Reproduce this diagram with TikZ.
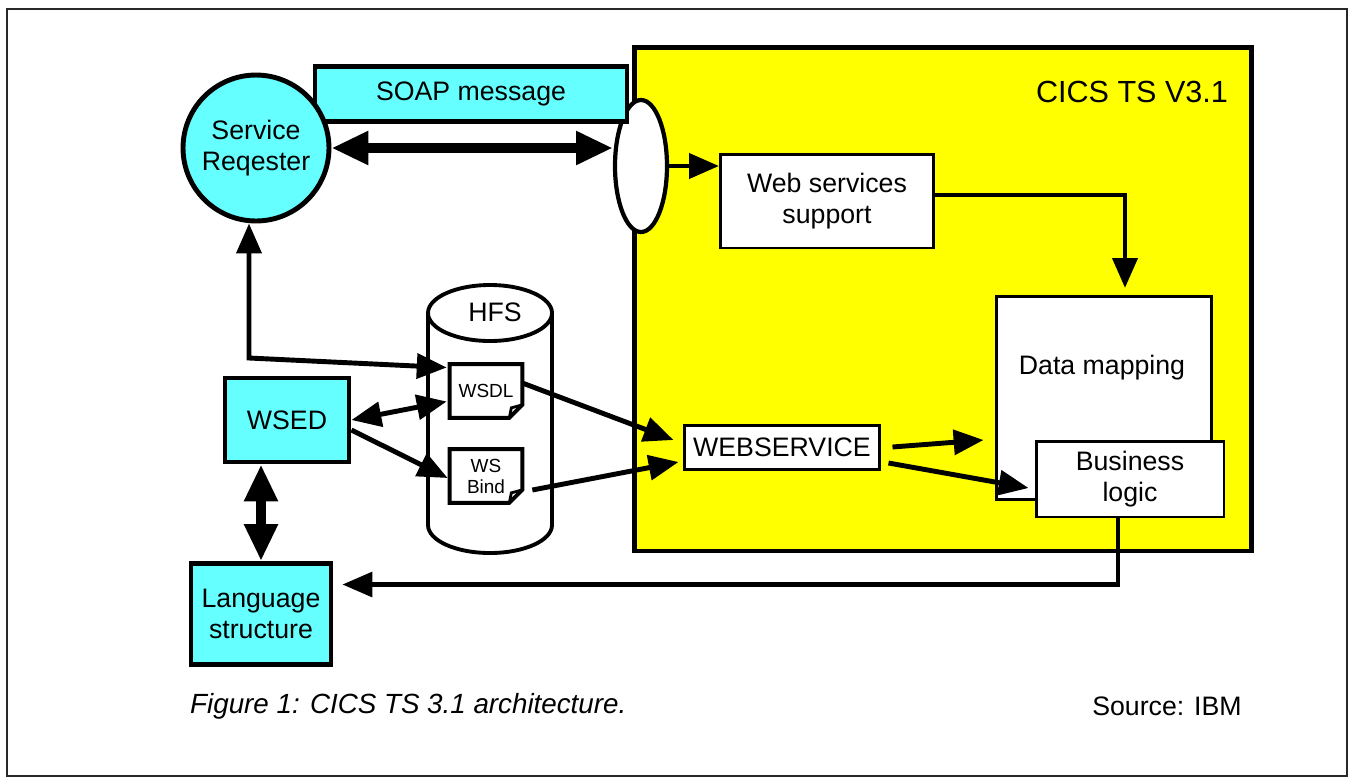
\documentclass[tikz,border=0pt]{standalone}
\usepackage{fontspec}
\setmainfont{Liberation Sans}
\usepackage{tikz}
\usetikzlibrary{shapes.geometric, arrows.meta, positioning, calc}
\definecolor{cicsyellow}{RGB}{255,255,0}
\definecolor{cicscyan}{RGB}{102,255,255}
\definecolor{framegray}{RGB}{40,40,40}
\newcommand{\cicsfont}{\fontsize{15.2}{17.5}\selectfont}
\newcommand{\docfont}{\fontsize{10.8}{12}\selectfont}
\tikzset{
  %% ---- boxes ----
  cyanbox/.style  = {rectangle, draw=black, line width=2.8pt,
                     fill=cicscyan, align=center, font=\cicsfont},
  whitebox/.style = {rectangle, draw=black, line width=1.7pt,
                     fill=white, align=center, font=\cicsfont},
  doc/.style      = {rectangle, fill=white, inner sep=0pt,
                     minimum width=1.44cm, minimum height=1.06cm,
                     align=center, font=\docfont},
  %% ---- arrows ----
  arrow/.style    = {-{Triangle[length=17pt,width=14pt]}, line width=2.8pt},
  dblarrow/.style = {{Triangle[length=17pt,width=14pt]}-{Triangle[length=17pt,width=14pt]},
                     line width=2.8pt},
  fatarrow/.style = {{Triangle[length=21pt,width=18pt]}-{Triangle[length=21pt,width=18pt]},
                     line width=5.5pt},
}
%% dog-ear outline round a doc node
\newcommand{\docoutline}[1]{%
  \draw[line width=2.2pt] (#1.north west) -- (#1.north east)
    -- ([yshift=0.26cm]#1.south east) -- ([xshift=-0.26cm]#1.south east)
    -- (#1.south west) -- cycle;
  \draw[line width=1.6pt] ([yshift=0.26cm]#1.south east)
    -- ([shift={(-0.22cm,0.2cm)}]#1.south east) -- ([xshift=-0.26cm]#1.south east);}

\begin{document}
\begin{tikzpicture}[x=0.02cm, y=-0.02cm, font=\cicsfont]
  \useasboundingbox (0,0) rectangle (1349,782);
  \draw[framegray, line width=1.1pt] (7,9) rectangle (1347,776);

  %% ---- CICS region ----
  \node[rectangle, draw=black, line width=2.8pt, fill=cicsyellow,
        minimum width=12.36cm, minimum height=10.08cm] (cics) at (943,299) {};
  \node[font=\fontsize{17.4}{20}\selectfont] (cicslabel) at (1132,92) {CICS TS V3.1};

  \node[ellipse, draw=black, line width=2.4pt, fill=white,
        minimum width=1.04cm, minimum height=2.64cm, inner sep=0pt] (gate) at (641,166) {};
  \node[whitebox, minimum width=4.26cm, minimum height=1.88cm] (wss) at (827,201)
    {Web services\\support};
  \node[whitebox, minimum width=4.32cm, minimum height=4.06cm] (dmap) at (1104,398) {};
  \node (dmaptext) at (1102,368) {Data mapping};
  \node[whitebox, minimum width=3.76cm, minimum height=1.52cm] (blogic) at (1130,479)
    {Business\\logic};
  \node[whitebox, minimum width=3.92cm, minimum height=0.88cm] (websvc) at (782,447)
    {WEBSERVICE};

  %% ---- requester side ----
  \node[cyanbox, minimum width=6.24cm, minimum height=1.1cm] (soap) at (471,94)
    {SOAP message};
  \node[circle, draw=black, line width=2.8pt, fill=cicscyan, align=center,
        minimum size=2.92cm, inner sep=0pt] (sr) at (256,148) {Service\\Reqester};
  \node[cyanbox, minimum width=2.48cm, minimum height=1.68cm] (wsed) at (287,420) {WSED};
  \node[cyanbox, minimum width=2.8cm, minimum height=2.02cm] (lang) at (261,614)
    {Language\\structure};

  %% ---- HFS ----
  \draw[line width=2.2pt, fill=white] (428,313) -- (428,525)
    arc[start angle=180, end angle=0, x radius=62, y radius=28] -- (552,313);
  \draw[line width=2.2pt, fill=white] (490,313) ellipse [x radius=62, y radius=28];
  \node (hfs) at (495,312) {HFS};
  \node[doc] (wsdl) at (486,391) {WSDL};
  \docoutline{wsdl}
  \node[doc] (wsbind) at (486,476) {WS\\Bind};
  \docoutline{wsbind}

  %% ---- connectors ----
  \draw[fatarrow] (sr.east) -- (sr.east -| gate.west);
  \draw[arrow] (gate.east) -- (gate.east -| wss.west);
  \draw[arrow, shorten >=4pt] ([yshift=0.12cm]wss.east) -| ([xshift=0.42cm]dmap.north);

  \coordinate (bend) at (249,358);
  \draw[dblarrow] (bend |- sr.south) -- (bend) -- ([shift={(-0.06cm,0.47cm)}]wsdl.west);
  \draw[dblarrow] (wsed.east) -- ([shift={(-0.06cm,-0.21cm)}]wsdl.west);
  \draw[arrow] ([yshift=-0.2cm]wsed.east) -- ([shift={(-0.04cm,-0.04cm)}]wsbind.west);
  \draw[fatarrow] (lang.north |- wsed.south) -- (lang.north);

  \draw[arrow] ([yshift=0.16cm]wsdl.east) -- ([shift={(-0.18cm,0.14cm)}]websvc.west);
  \draw[arrow] ([shift={(0.2cm,-0.28cm)}]wsbind.east) -- ([shift={(-0.08cm,-0.3cm)}]websvc.west);
  \draw[arrow] ([xshift=0.22cm]websvc.east) -- ([shift={(-0.22cm,0.14cm)}]dmap.west |- websvc.east);
  \draw[arrow] ([shift={(0.14cm,-0.32cm)}]websvc.east) -- ([shift={(-0.12cm,-0.18cm)}]blogic.west);

  \draw[arrow, line width=2.4pt] ([xshift=-0.24cm]blogic.south) |- ([shift={(0.18cm,0.59cm)}]lang.east);

  %% ---- caption ----
  \node[anchor=west, font=\fontsize{15.8}{18}\selectfont\itshape] (caption) at (184,706)
    {Figure 1: CICS TS 3.1 architecture.};
  \node (source) at (1167,706) {Source: IBM};
\end{tikzpicture}
\end{document}
